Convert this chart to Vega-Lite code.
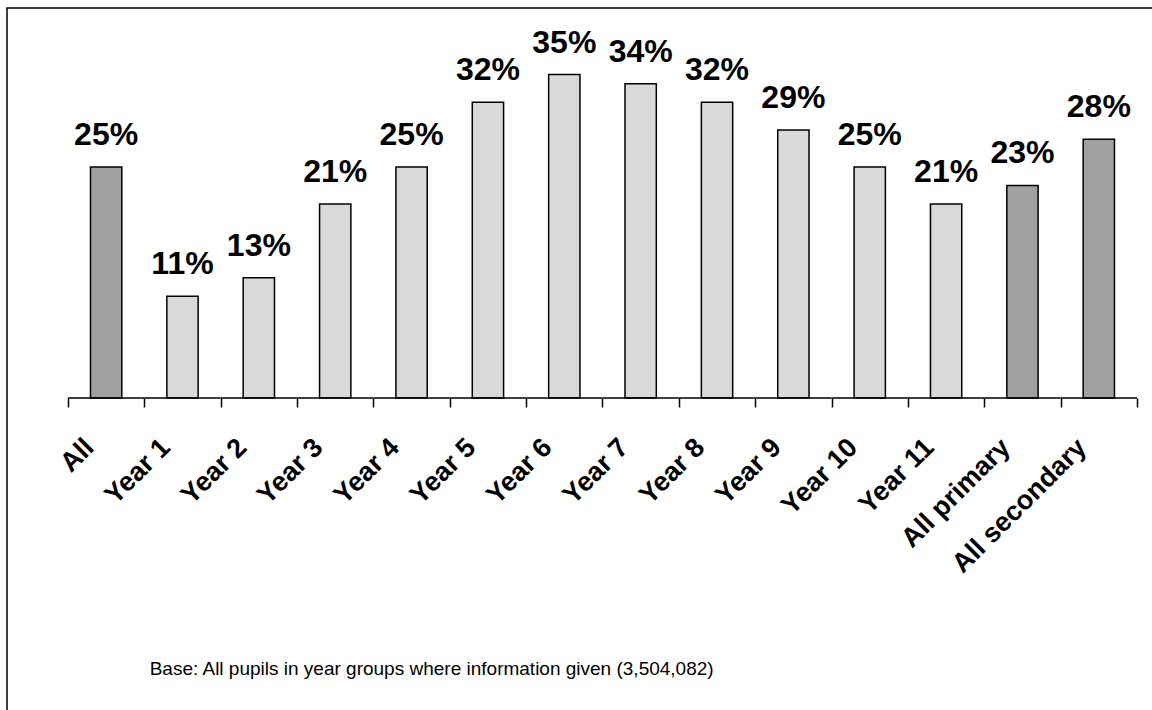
{
  "$schema": "https://vega.github.io/schema/vega-lite/v6.json",
  "width": 1150,
  "height": 707,
  "autosize": {"type": "none"},
  "padding": {"left": 7, "top": 8, "right": 0, "bottom": 0},
  "background": "white",
  "config": {
    "view": {"stroke": "black", "strokeWidth": 1.5},
    "font": "Liberation Sans"
  },
  "datasets": {
    "bars": [
      {"group": "All", "share": 0.25, "kind": "overall"},
      {"group": "Year 1", "share": 0.11, "kind": "year"},
      {"group": "Year 2", "share": 0.13, "kind": "year"},
      {"group": "Year 3", "share": 0.21, "kind": "year"},
      {"group": "Year 4", "share": 0.25, "kind": "year"},
      {"group": "Year 5", "share": 0.32, "kind": "year"},
      {"group": "Year 6", "share": 0.35, "kind": "year"},
      {"group": "Year 7", "share": 0.34, "kind": "year"},
      {"group": "Year 8", "share": 0.32, "kind": "year"},
      {"group": "Year 9", "share": 0.29, "kind": "year"},
      {"group": "Year 10", "share": 0.25, "kind": "year"},
      {"group": "Year 11", "share": 0.21, "kind": "year"},
      {"group": "All primary", "share": 0.23, "kind": "overall"},
      {"group": "All secondary", "share": 0.28, "kind": "overall"}
    ],
    "note": [
      {"note": "Base: All pupils in year groups where information given (3,504,082)"}
    ]
  },
  "layer": [
    {
      "data": {"name": "bars"},
      "mark": {"type": "bar", "width": {"band": 0.41}, "stroke": "black", "strokeWidth": 1.5},
      "encoding": {
        "x": {
          "field": "group", "type": "nominal", "sort": null,
          "scale": {"paddingInner": 0, "paddingOuter": 0.53, "align": 0.753},
          "axis": {
            "title": null, "domain": false, "tickBand": "extent", "offset": -317,
            "tickSize": 9, "tickColor": "black", "tickWidth": 1.5,
            "labelAngle": -45, "labelAlign": "right", "labelBaseline": "middle",
            "labelPadding": 36, "labelOffset": -17, "labelFont": "Liberation Sans", "labelFontWeight": "bold",
            "labelFontSize": 27, "labelColor": "black", "labelOverlap": false, "labelBound": false
          }
        },
        "y": {
          "field": "share", "type": "quantitative",
          "scale": {"domain": [-0.343, 0.422], "nice": false, "zero": false},
          "axis": null
        },
        "y2": {"datum": 0},
        "color": {
          "field": "kind", "type": "nominal",
          "scale": {"domain": ["overall", "year"], "range": ["#a0a0a0", "#d9d9d9"]},
          "legend": null
        }
      }
    },
    {
      "data": {"name": "bars"},
      "mark": {"type": "bar", "width": {"band": 1}, "stroke": "black", "strokeWidth": 1.5, "fill": null},
      "encoding": {
        "x": {"field": "group", "type": "nominal", "sort": null},
        "y": {"datum": 0},
        "y2": {"datum": 0}
      }
    },
    {
      "data": {"name": "bars"},
      "mark": {"type": "text", "font": "Liberation Sans", "fontWeight": "bold", "fontSize": 32, "color": "black", "baseline": "alphabetic", "dy": -22},
      "encoding": {
        "x": {"field": "group", "type": "nominal", "sort": null},
        "y": {"field": "share", "type": "quantitative"},
        "text": {"field": "share", "type": "quantitative", "format": ".0%"}
      }
    },
    {
      "data": {"name": "note"},
      "mark": {"type": "text", "font": "Liberation Sans", "fontSize": 19, "color": "black", "align": "left", "baseline": "alphabetic"},
      "encoding": {
        "x": {"datum": "Year 1", "bandPosition": 0.07},
        "y": {"datum": -0.3},
        "text": {"field": "note"}
      }
    }
  ]
}
